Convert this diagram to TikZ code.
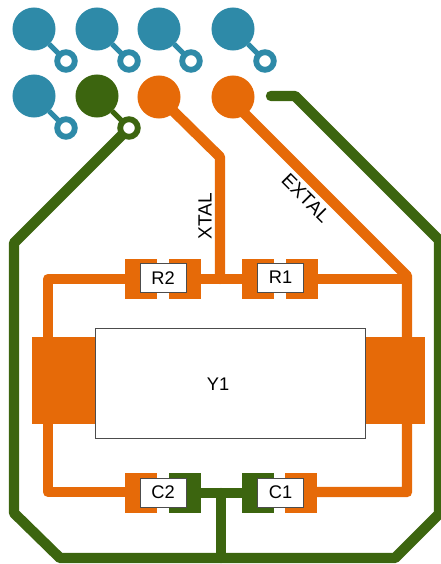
\documentclass[tikz,border=0pt]{standalone}
\usepackage{fontspec}
\setmainfont{Liberation Sans}
\usetikzlibrary{backgrounds}
\definecolor{myblue}{HTML}{2E8AA8}
\definecolor{mygreen}{HTML}{3C650F}
\definecolor{myorange}{HTML}{E66A08}

\begin{document}
\begin{tikzpicture}[x=0.025cm, y=-0.025cm, font=\fontsize{13}{15}\selectfont]
	  \tikzstyle{every node} = [inner sep=0pt, outer sep=0pt]
	  \tikzstyle{pad} = [circle, minimum size=1.075cm]
	  \tikzstyle{via} = [circle, draw, fill=white, line width=0.145cm, minimum size=0.44cm]
	  \tikzstyle{stub} = [line width=0.125cm]
	  \tikzstyle{trace} = [line width=0.26cm, line join=round, line cap=round]
	  \tikzstyle{land} = [minimum width=0.8cm, minimum height=1cm]
	  \tikzstyle{tag} = [draw=black!70, fill=white, line width=0.4pt, minimum width=1.15cm, minimum height=0.72cm]
	  \useasboundingbox (0, 0) rectangle (440, 564);
	  % pads and their vias
	  \foreach \name/\x/\y/\col in {1/34/29/myblue, 2/97/29/myblue, 3/159/29/myblue, 4/233/29/myblue, 5/34/96/myblue, 6/97/96/mygreen}{
	    \node (P\name)[pad, fill=\col] at (\x, \y) {};
	    \node (V\name)[via, draw=\col] at (\x+32, \y+32) {};
	    \begin{scope}[on background layer]
	    \draw [stub, color=\col] (P\name) -- (V\name);
	    \end{scope}
	  }
	  \node (P7)[pad, fill=myorange] at (159, 97) {};
	  \node (P8)[pad, fill=myorange] at (233, 97) {};
	  % lands
	  \node (R2a)[land, fill=myorange] at (141, 279) {};
	  \node (R2b)[land, fill=myorange] at (185, 279) {};
	  \node (R1a)[land, fill=myorange] at (258, 279) {};
	  \node (R1b)[land, fill=myorange] at (302, 279) {};
	  \node (C2a)[land, fill=myorange] at (141, 493) {};
	  \node (C2b)[land, fill=mygreen] at (185, 493) {};
	  \node (C1a)[land, fill=mygreen] at (258, 493) {};
	  \node (C1b)[land, fill=myorange] at (301, 493) {};
	  \node (Yl)[fill=myorange, minimum width=1.575cm, minimum height=2.175cm] at (63.5, 380.5) {};
	  \node (Yr)[fill=myorange, minimum width=1.5cm, minimum height=2.175cm] at (395, 380.5) {};
	  % labels
	  \node (Y1)[draw=black!70, fill=white, line width=0.4pt, minimum width=6.75cm, minimum height=2.75cm] at (230, 383) {};
	  \node (Y1t) at (218, 384) {Y1};
	  \node (R2)[tag] at (163, 278) {R2};
	  \node (R1)[tag] at (280.5, 277.5) {R1};
	  \node (C2)[tag] at (163, 492.5) {C2};
	  \node (C1)[tag] at (280.5, 492.5) {C1};
	  \node (xtal)[rotate=90, font=\fontsize{13.6}{15}\selectfont] at (205, 216) {XTAL};
	  \node (extal)[rotate=-45, font=\fontsize{13.6}{15}\selectfont] at (306, 198) {EXTAL};
	  % corners
	  \coordinate (xa) at (220, 157);
	  \coordinate (xb) at (220, 279);
	  \coordinate (ea) at (407, 276);
	  \coordinate (eb) at (407, 279);
	  \coordinate (eo) at (228, 97);
	  \coordinate (tl) at (48, 279);
	  \coordinate (ml) at (48, 380);
	  \coordinate (bl) at (48, 492);
	  \coordinate (mr) at (407, 380);
	  \coordinate (br) at (407, 492);
	  \coordinate (gm) at (221, 493);
	  \coordinate (gb) at (221, 558);
	  \coordinate (g1) at (14, 243);
	  \coordinate (g2) at (14, 513);
	  \coordinate (g3) at (60, 558);
	  \coordinate (g4) at (395, 558);
	  \coordinate (g5) at (439, 514);
	  \coordinate (g6) at (439, 240);
	  \coordinate (g7) at (295, 96);
	  \coordinate (g8) at (271, 96);
	  \begin{scope}[on background layer]
	  \draw [trace, color=myorange] (P7.center) -- (xa) -- (xb);
	  \draw [trace, color=myorange] (eo) -- (ea) -- (mr) -- (br) -- (br -| C1b.center);
	  \draw [trace, color=myorange] (R1b.center) -- (eb);
	  \draw [trace, color=myorange] (R2b.center) -- (R1a.center);
	  \draw [trace, color=myorange] (R2a.center) -- (tl) -- (ml) -- (bl) -- (bl -| C2a.center);
	  \draw [trace, color=mygreen] (C2b.center) -- (C1a.center);
	  \draw [trace, color=mygreen] (gm) -- (gb);
	  \draw [trace, color=mygreen] (V6.center) -- (g1) -- (g2) -- (g3) -- (g4) -- (g5) -- (g6) -- (g7) -- (g8);
	  \end{scope}
	\end{tikzpicture}
\end{document}
